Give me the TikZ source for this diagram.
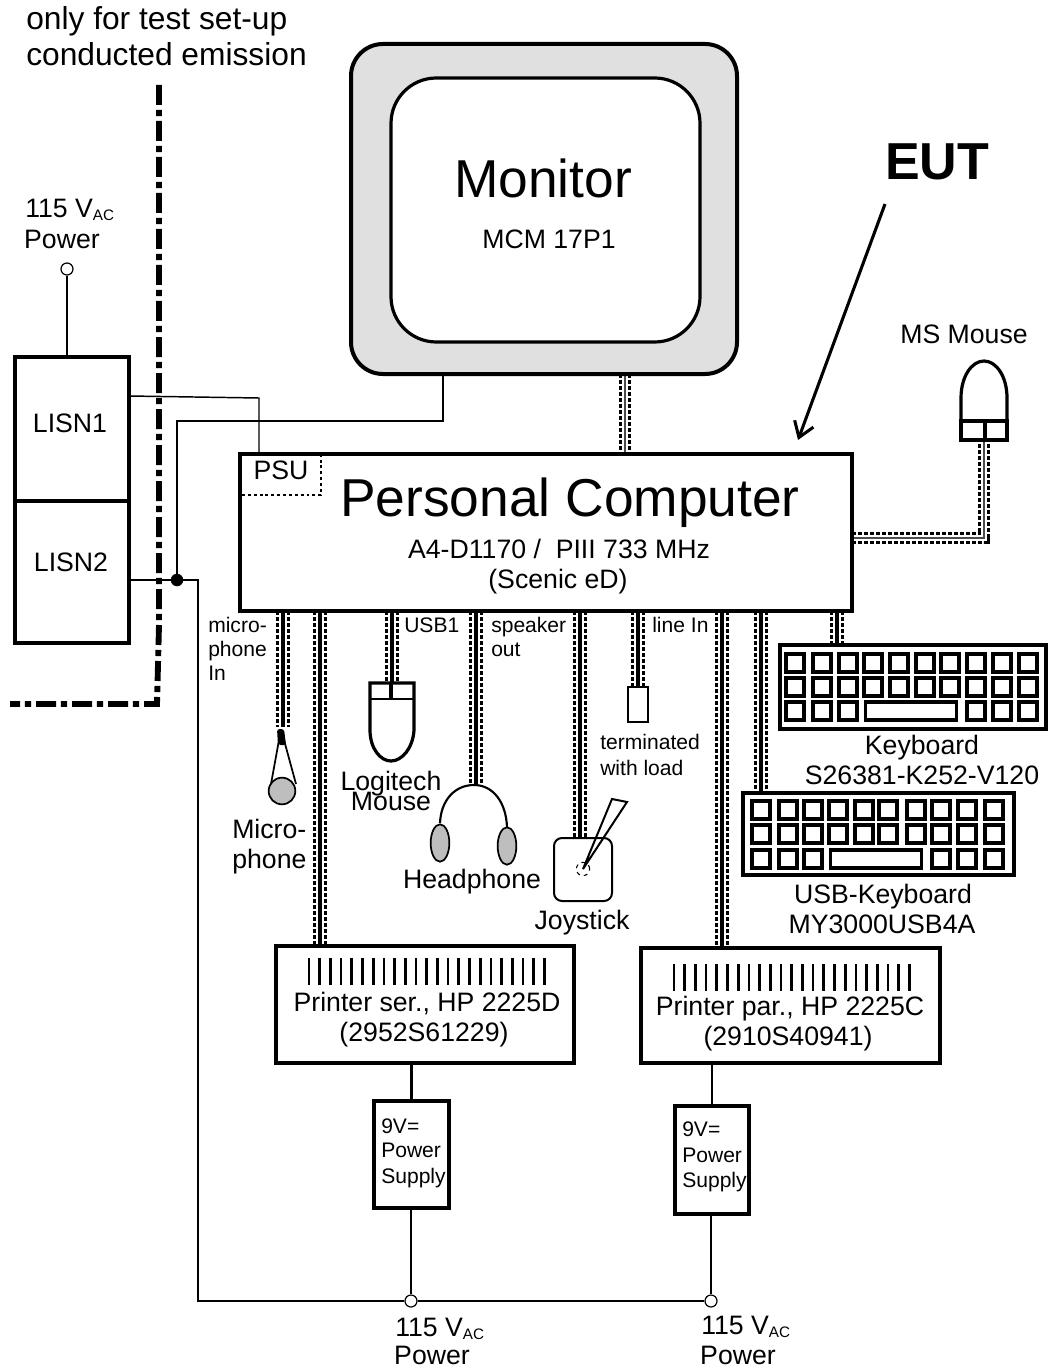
\documentclass[tikz,border=0pt]{standalone}
\usepackage{fontspec}
\setmainfont{Liberation Sans}
\usetikzlibrary{positioning, arrows.meta, calc, shapes.geometric, backgrounds}
\definecolor{partgray}{RGB}{190,190,190}
\definecolor{framegray}{RGB}{224,224,224}
\newcommand{\vac}{115 V\raisebox{-2.5pt}{\fontsize{11.4}{12}\selectfont AC}}
\begin{document}
\begin{tikzpicture}[x=0.75pt, y=-0.75pt, >=Stealth,
        box/.style={draw, line width=3pt, rectangle, inner sep=0pt, outer sep=0pt, anchor=north west},
        wire/.style={draw, line width=1.7pt},
        thinwire/.style={draw, line width=1.1pt},
        cable/.style={draw, line width=10.5pt, dash pattern=on 3.2pt off 1.3pt,
          postaction={draw, solid, white, line width=6pt},
          postaction={draw, solid, black, line width=2.4pt}},
        thincable/.style={draw, line width=9pt, dash pattern=on 3.2pt off 1.3pt,
          postaction={draw, solid, white, line width=5pt},
          postaction={draw, solid, black!70, line width=0.9pt}},
        terminal/.style={draw, circle, fill=white, line width=0.9pt, minimum size=9pt, inner sep=0pt},
        keycap/.style={draw, line width=2.4pt, rectangle, minimum size=13.5pt, inner sep=0pt},
        big/.style={font=\fontsize{40}{44}\selectfont},
        lab/.style={font=\fontsize{20}{24}\selectfont, inner sep=0pt, text height=0.72em, text depth=0.21em, yshift=-4.4pt},
        small/.style={font=\fontsize{15.8}{18}\selectfont, inner sep=0pt, anchor=west, text height=0.72em, text depth=0.21em, yshift=-3pt}]
      \useasboundingbox (0,0) rectangle (1047,1369);
      % Monitor
      \node[box, fill=framegray, rounded corners=24pt, minimum width=289.5pt, minimum height=247.5pt] (frame) at (351,44) {};
      \node[box, fill=white, rounded corners=34pt, line width=2.4pt, minimum width=231.75pt, minimum height=198pt] (screen) at (391,78) {};
      \node[big] (montxt) at (543,178) {Monitor};
      \node[lab] (monsub) at (549,239) {MCM 17P1};
      \node[font=\fontsize{39}{44}\selectfont\bfseries] (eut) at (937,162) {EUT};
      \coordinate (eutfoot) at (885,204);
      % Personal computer
      \node[box, minimum width=459pt, minimum height=117.75pt] (pc) at (240,454) {};
      \node[big] (pctxt) at (570,503) {Personal Computer};
      \node[lab] (pcsub) at (559,549) {A4-D1170 /\ \ PIII 733 MHz};
      \node[lab] (pcname) at (558,579) {(Scenic eD)};
      \node[lab] (psu) at (281,470) {PSU};
      \draw[line width=2pt, dash pattern=on 2.2pt off 2.2pt] (242,495) -- (321,495) -- (321,456);
      \coordinate (euttip) at (798,440);
      \draw[-{Straight Barb[length=11pt, width=15pt]}, line width=2.3pt] (eutfoot) -- (euttip);
      % LISN
      \node[box, minimum width=85.5pt, minimum height=214.5pt] (lisn) at (15,357) {};
      \draw[line width=3pt] (lisn.west |- 0,501) -- (lisn.east |- 0,501);
      \node[lab] (lisn1) at (70,423) {LISN1};
      \node[lab] (lisn2) at (71,562) {LISN2};
      % Test set-up boundary
      \draw[line width=4.4pt, dash pattern=on 15pt off 3.7pt on 4.6pt off 3.7pt] (159,85) -- (159,625) -- (157,704) -- (10,704);
      \node[lab, anchor=west, font=\fontsize{23.8}{27}\selectfont, yshift=-0.8pt] (only1) at (26,19) {only for test set-up};
      \node[lab, anchor=west, font=\fontsize{23.8}{27}\selectfont, yshift=-0.8pt] (only2) at (26,55) {conducted emission};
      % Mains side
      \node[terminal] (mains1) at (67,269) {};
      \node[lab, anchor=west] (v1) at (25,208) {\vac};
      \node[lab] (p1) at (62,239) {Power};
      \draw[wire] (mains1) -- (mains1 |- lisn.north);
      \node[draw, circle, fill=black, minimum size=9pt, inner sep=0pt] (node1) at (177,580) {};
      \coordinate (monwire) at (443,421);
      \draw[thinwire] (lisn.east |- 0,396) -- (259,398) -- (pc.north -| 259,0);
      \draw[wire] (lisn.east |- node1) -- (node1);
      \draw[wire] (node1) |- (monwire) -- (frame.south -| monwire);
      \node[small] (lmic1) at (208,625) {micro-};
      \node[small] (lmic2) at (208,649) {phone};
      \node[small] (lmic3) at (208,673) {In};
      \node[small] (lusb) at (404,625) {USB1};
      \node[small] (lspk1) at (491,625) {speaker};
      \node[small] (lspk2) at (491,649) {out};
      \node[small] (lline) at (652,625) {line In};
      % Microphone
      \coordinate (mictop) at (283,727);
      \draw[line width=1.3pt] (271,784) -- (279,740) (296,784) -- (284,740);
      \node[draw, circle, fill=partgray, line width=1.3pt, minimum size=20pt, inner sep=0pt] (mic) at (282,791) {};
      \fill[rounded corners=2pt] (277,729) -- (284,729) -- (286,745) -- (278,745) -- cycle;
      \node[lab, anchor=west] (micl1) at (232,829) {Micro-};
      \node[lab, anchor=west] (micl2) at (232,859) {phone};
      % Logitech mouse
      \coordinate (logitop) at (392,683);
      \draw[line width=2.4pt] (370,730) -- (370,683) -- (414,683) -- (414,730)
        .. controls (413,748) and (402,761) .. (391,761) .. controls (380,761) and (370,748) .. (370,730);
      \draw[line width=1.3pt] (370,699) -- (414,699);
      \draw[line width=2.4pt] (391,683) -- (391,699);
      \node[lab] (logi) at (391,781) {Logitech};
      \node[lab] (logm) at (391,801) {Mouse};
      % Headphone
      \coordinate (hptop) at (476,785);
      \draw[line width=1.6pt] (440,823) .. controls (441,800) and (455,785) .. (474,785) .. controls (493,785) and (506,802) .. (507,827);
      \node[draw, ellipse, fill=partgray, line width=1.3pt, minimum width=14pt, minimum height=28pt, inner sep=0pt] (earl) at (440,843) {};
      \node[draw, ellipse, fill=partgray, line width=1.3pt, minimum width=14pt, minimum height=28pt, inner sep=0pt] (earr) at (507,846) {};
      \node[lab] (hp) at (472,879) {Headphone};
      % Joystick
      \node[box, line width=1.5pt, rounded corners=6pt, minimum width=43.5pt, minimum height=47.25pt] (joy) at (554,838) {};
      \node[draw, circle, dashed, line width=0.8pt, minimum size=10pt, inner sep=0pt] (knob) at (583,869) {};
      \draw[line width=1.5pt] (knob.center) -- (612,799) -- (627,802) -- cycle;
      \node[lab] (joyl) at (582,920) {Joystick};
      % Terminated line in
      \node[box, line width=1.1pt, minimum width=15pt, minimum height=26.25pt] (load) at (628,687) {};
      \node[small] (loadl1) at (600,742) {terminated};
      \node[small] (loadl2) at (600,768) {with load};
      % MS mouse
      \coordinate (mstail) at (984,440);
      \node[lab] (msl) at (964,334) {MS Mouse};
      \draw[line width=2.4pt] (961,421) -- (961,398) .. controls (961,376) and (972,361) .. (984,361) .. controls (996,361) and (1007,376) .. (1007,398) -- (1007,421);
      \draw[line width=2.4pt] (961,421) rectangle (1007,440) (985,421) -- (985,440);
      % Keyboards
      \node[box, line width=2.4pt, minimum width=199.5pt, minimum height=63pt] (kbd) at (780,645) {};
      \foreach \x in {795,822,848,873,899,925,950,976,1002,1028} {
        \node[keycap] at (\x,663) {};
        \node[keycap] at (\x,687) {};
      }
      \foreach \x in {795,822,848,976,1002,1028}
        \node[keycap] at (\x,711) {};
      \node[keycap, minimum width=68pt] (kbdspace) at (911,711) {};
      \node[lab] (kbdl1) at (922,745) {Keyboard};
      \node[lab] (kbdl2) at (922,775) {S26381-K252-V120};
      \node[box, line width=2.4pt, minimum width=203.25pt, minimum height=61.5pt] (ukbd) at (743,793) {};
      \foreach \x in {761,788,813,838,864,888,916,941,967,994} {
        \node[keycap] at (\x,810) {};
        \node[keycap] at (\x,834) {};
      }
      \foreach \x in {761,788,813,941,967,994}
        \node[keycap] at (\x,859) {};
      \node[keycap, minimum width=68pt] (ukbdspace) at (876,859) {};
      \node[lab] (ukbdl1) at (883,894) {USB-Keyboard};
      \node[lab] (ukbdl2) at (882,924) {MY3000USB4A};
      % Printers
      \node[box, minimum width=223.5pt, minimum height=87.75pt] (prs) at (276,946) {};
      \foreach \x in {0,...,22}
        \draw[line width=2pt] (309+\x*10.7,958) -- (309+\x*10.7,985);
      \node[lab] (prstxt) at (427,1002) {Printer ser., HP 2225D};
      \node[lab] (prsno) at (424,1032) {(2952S61229)};
      \node[box, minimum width=224.25pt, minimum height=86.25pt] (prp) at (641,948) {};
      \foreach \x in {0,...,22}
        \draw[line width=2pt] (674+\x*10.7,964) -- (674+\x*10.7,991);
      \node[lab] (prptxt) at (790,1006) {Printer par., HP 2225C};
      \node[lab] (prpno) at (788,1036) {(2910S40941)};
      % Power supplies
      \node[box, line width=2.4pt, minimum width=56.25pt, minimum height=80.25pt] (pss) at (374,1101) {};
      \node[small] (pss1) at (381,1126) {9V=};
      \node[small] (pss2) at (381,1150) {Power};
      \node[small] (pss3) at (381,1176) {Supply};
      \node[box, line width=2.4pt, minimum width=55.5pt, minimum height=81pt] (psp) at (675,1106) {};
      \node[small] (psp1) at (682,1129) {9V=};
      \node[small] (psp2) at (682,1155) {Power};
      \node[small] (psp3) at (682,1180) {Supply};
      \node[terminal] (mains2) at (411,1301) {};
      \node[terminal] (mains3) at (711,1301) {};
      \draw[wire] (prs.south -| pss.north) -- (pss.north);
      \draw[wire] (prp.south -| psp.north) -- (psp.north);
      \draw[wire] (pss.south -| mains2) -- (mains2);
      \draw[wire] (psp.south -| mains3) -- (mains3);
      \draw[wire] (node1) -| (198,1301) -- (mains2) -- (mains3);
      \node[lab, anchor=west] (v2) at (395,1327) {\vac};
      \node[lab] (p2) at (432,1355) {Power};
      \node[lab, anchor=west] (v3) at (701,1325) {\vac};
      \node[lab] (p3) at (738,1355) {Power};
      % Cables from the computer
      \begin{scope}[on background layer]
        \draw[thincable] (frame.south -| 625,0) -- (pc.north -| 625,0);
        \draw[cable] (pc.south -| mictop) -- (mictop);
        \draw[cable] (pc.south -| 320,0) -- (prs.north -| 320,0);
        \draw[cable] (pc.south -| logitop) -- (logitop);
        \draw[cable] (pc.south -| hptop) -- (hptop);
        \draw[cable] (pc.south -| 580,0) -- (joy.north -| 580,0);
        \draw[cable] (pc.south -| 638,0) -- (load.north -| 638,0);
        \draw[cable] (pc.south -| 722,0) -- (prp.north -| 722,0);
        \draw[cable] (pc.south -| 761,0) -- (ukbd.north -| 761,0);
        \draw[cable] (pc.south -| 837,0) -- (kbd.north -| 837,0);
        \draw[thincable] (pc.east |- 0,538) -| (mstail);
      \end{scope}
    \end{tikzpicture}
\end{document}
